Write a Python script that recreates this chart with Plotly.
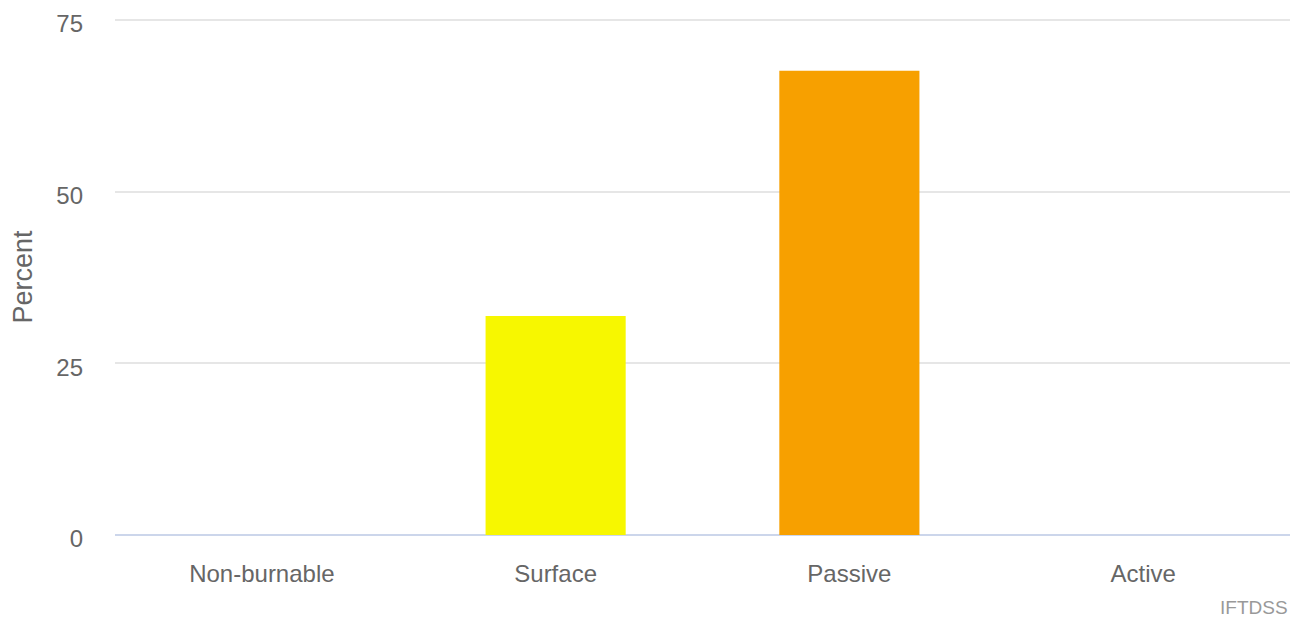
import plotly.graph_objects as go

categories = ["Non-burnable", "Surface", "Passive", "Active"]
percent = [0, 31.9, 67.6, 0]
colors = ["#7cb5ec", "#f7f700", "#f7a000", "#e8453c"]
y_ticks = [0, 25, 50, 75]

fig = go.Figure(go.Bar(x=categories, y=percent, marker=dict(color=colors, line=dict(width=0)),
                       showlegend=False))

font_family = "Liberation Sans, Arial, sans-serif"
fig.update_layout(
    width=1294, height=613,
    margin=dict(l=107, r=12, t=11, b=86),
    paper_bgcolor="white", plot_bgcolor="white",
    bargap=0.523,
    font=dict(family=font_family, color="#666666"),
)
fig.update_xaxes(
    showgrid=False, showline=False, zeroline=False, ticks="", automargin=False,
    tickfont=dict(size=24, color="#666666"), ticklabelstandoff=22,
)
fig.update_yaxes(
    range=[0, 75.15], tickvals=y_ticks, showgrid=True, gridcolor="#e6e6e6", gridwidth=1.5,
    zeroline=True, zerolinecolor="#ccd6eb", zerolinewidth=2, automargin=False,
    ticklabeloverflow="allow", ticklabelshift=4,
    tickfont=dict(size=24, color="#666666"), ticklabelstandoff=31,
    title=dict(text="Percent", font=dict(size=27, color="#666666"), standoff=16),
)
fig.add_annotation(text="IFTDSS", xref="paper", yref="paper", x=1.0, y=-0.14,
                   xanchor="right", yanchor="middle", showarrow=False,
                   font=dict(size=19, color="#999999", family=font_family))
fig.write_html("out.html")
